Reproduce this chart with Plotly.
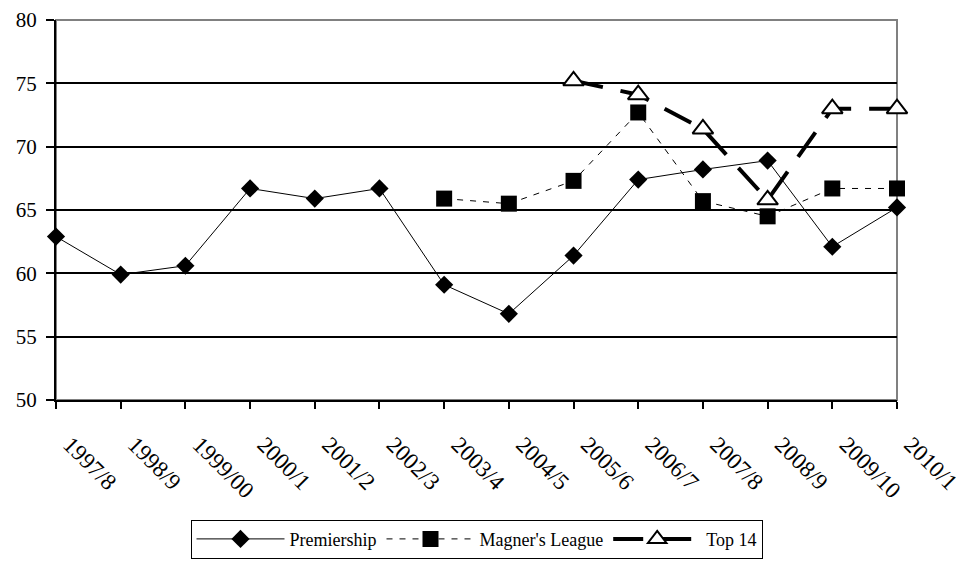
import plotly.graph_objects as go

seasons = ["1997/8", "1998/9", "1999/00", "2000/1", "2001/2", "2002/3", "2003/4",
           "2004/5", "2005/6", "2006/7", "2007/8", "2008/9", "2009/10", "2010/1"]
premiership = [62.9, 59.9, 60.6, 66.7, 65.9, 66.7, 59.1, 56.8, 61.4, 67.4, 68.2, 68.9, 62.1, 65.2]
magners = [None, None, None, None, None, None, 65.9, 65.5, 67.3, 72.7, 65.7, 64.5, 66.7, 66.7]
top14 = [None, None, None, None, None, None, None, None, 75.2, 74.1, 71.4, 65.8, 73.0, 73.0]
y_ticks = [50, 55, 60, 65, 70, 75, 80]

FONT = "Liberation Serif, Times New Roman, serif"
xs = list(range(len(seasons)))

fig = go.Figure()
fig.add_trace(go.Scatter(
    x=xs, y=premiership, name="Premiership", mode="lines+markers",
    line=dict(color="black", width=1),
    marker=dict(symbol="diamond", size=14, color="black"),
    cliponaxis=False, connectgaps=False))
fig.add_trace(go.Scatter(
    x=xs, y=magners, name="Magner's League", mode="lines+markers",
    line=dict(color="black", width=1, dash="6px,7px"),
    marker=dict(symbol="square", size=16, color="black"),
    cliponaxis=False, connectgaps=False))
fig.add_trace(go.Scatter(
    x=xs, y=top14, name="Top 14", mode="lines+markers",
    line=dict(color="black", width=4, dash="30px,18px"),
    marker=dict(symbol="triangle-up", size=18, color="white",
                line=dict(color="black", width=2)),
    cliponaxis=False, connectgaps=False))

fig.update_layout(
    width=956, height=555,
    margin=dict(l=48, r=67, t=12, b=163, autoexpand=False),
    paper_bgcolor="white", plot_bgcolor="white",
    font=dict(family=FONT, size=19, color="black"),
    showlegend=True,
    legend=dict(orientation="h", x=0.5, xanchor="center", y=-0.315, yanchor="top",
                bordercolor="black", borderwidth=1, font=dict(family=FONT, size=18),
                itemwidth=88, tracegroupgap=0),
    shapes=[dict(type="rect", xref="paper", yref="paper", x0=0, x1=1, y0=0, y1=1,
                 line=dict(color="#808080", width=2), layer="below")],
)
fig.update_xaxes(
    range=[0, len(seasons) - 1], tickmode="array", tickvals=xs, ticktext=seasons,
    tickangle=45, ticks="outside", ticklen=7, tickwidth=2, tickcolor="black",
    showline=True, linecolor="black", linewidth=2, showgrid=False, zeroline=False,
    automargin=False, ticklabelstandoff=13, ticklabelshift=14,
    tickfont=dict(family=FONT, size=23))
fig.update_yaxes(
    range=[50, 80], tickmode="array", tickvals=y_ticks,
    ticks="outside", ticklen=8, tickwidth=2, tickcolor="black",
    showline=True, linecolor="black", linewidth=2,
    showgrid=True, gridcolor="black", gridwidth=2, zeroline=False,
    automargin=False, ticklabelstandoff=5, tickfont=dict(family=FONT, size=21))

fig.write_html("out.html")
